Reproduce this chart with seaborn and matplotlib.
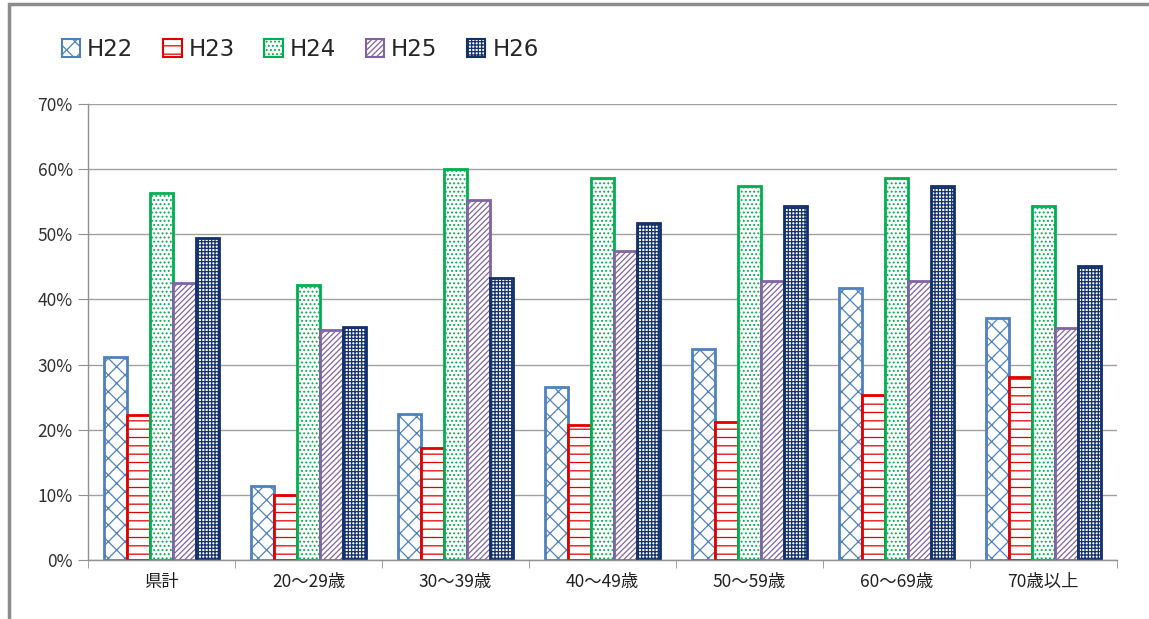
import pandas as pd
import matplotlib.pyplot as plt
import seaborn as sns
from matplotlib.patches import Patch, Rectangle
from matplotlib.ticker import FuncFormatter, FixedLocator

# Données (en %)
categories = ['県計', '20～29歳', '30～39歳', '40～49歳', '50～59歳', '60～69歳', '70歳以上']
years = ['H22', 'H23', 'H24', 'H25', 'H26']
h22 = [31.2, 11.3, 22.4, 26.5, 32.4, 41.7, 37.1]
h23 = [22.3, 10.0, 17.2, 20.7, 21.2, 25.3, 28.1]
h24 = [56.4, 42.2, 60.0, 58.7, 57.4, 58.7, 54.4]
h25 = [42.5, 35.3, 55.2, 47.4, 42.9, 42.9, 35.6]
h26 = [49.4, 35.7, 43.3, 51.7, 54.4, 57.4, 45.1]

edge_colors = ['#4F81BD', '#E00000', '#00B050', '#8064A2', '#12306B']
hatches = ['xx', '--', '....', '//////', '+++++']

rows = []
for year, values in zip(years, [h22, h23, h24, h25, h26]):
    for cat, v in zip(categories, values):
        rows.append({'cat': cat, 'year': year, 'value': v})
df = pd.DataFrame(rows)

sns.set_style('white')
plt.rcParams['font.family'] = ['Noto Sans CJK JP', 'DejaVu Sans']
plt.rcParams['hatch.linewidth'] = 0.9

fig = plt.figure(figsize=(11.49, 6.19), dpi=100)
ax = fig.add_axes([0.0766, 0.0953, 0.8954, 0.7367])

sns.barplot(data=df, x='cat', y='value', hue='year', order=categories, hue_order=years,
            width=0.78, gap=0, palette=['white'] * 5, ax=ax, legend=False)

# Style des barres : fond blanc, hachures et contour colorés
for cont, col, h in zip(ax.containers, edge_colors, hatches):
    for bar in cont:
        bar.set_facecolor('white')
        bar.set_edgecolor(col)
        bar.set_hatch(h)
        bar.set_linewidth(2)

ax.set_ylim(0, 70)
ax.set_xlim(-0.5, len(categories) - 0.5)
ax.set_yticks(range(0, 71, 10))
ax.yaxis.set_major_formatter(FuncFormatter(lambda v, p: f'{int(v)}%'))
ax.yaxis.grid(True, color='#a0a0a0', linewidth=1)
ax.set_axisbelow(True)
ax.set_xlabel('')
ax.set_ylabel('')

for s in ['top', 'right']:
    ax.spines[s].set_visible(False)
for s in ['left', 'bottom']:
    ax.spines[s].set_color('#909090')
    ax.spines[s].set_linewidth(1)

ax.tick_params(axis='y', which='major', direction='out', length=7, color='#909090',
               labelsize=12.5, labelcolor='#303030', left=True, pad=4)
ax.tick_params(axis='x', which='major', length=0, labelsize=12.5, labelcolor='#202020', pad=9)
ax.xaxis.set_minor_locator(FixedLocator([i - 0.5 for i in range(len(categories) + 1)]))
ax.tick_params(axis='x', which='minor', direction='out', length=6, color='#909090', bottom=True)

handles = [Patch(facecolor='white', edgecolor=c, hatch=h, linewidth=1.5, label=y)
           for y, c, h in zip(years, edge_colors, hatches)]
fig.legend(handles=handles, loc='upper left', bbox_to_anchor=(0.036, 0.972), ncol=5,
           frameon=False, handlelength=0.8, handleheight=0.8,
           handletextpad=0.3, columnspacing=1.3, prop={'family': 'DejaVu Sans', 'size': 16.5})

# Cadre gris autour du graphique (haut et gauche visibles)
fig.patches.append(Rectangle((0.0075, -0.5), 1.5, 1.4935, transform=fig.transFigure,
                             fill=False, edgecolor='#8c8c8c', linewidth=2.5))

fig.savefig('out.png', dpi=100)
